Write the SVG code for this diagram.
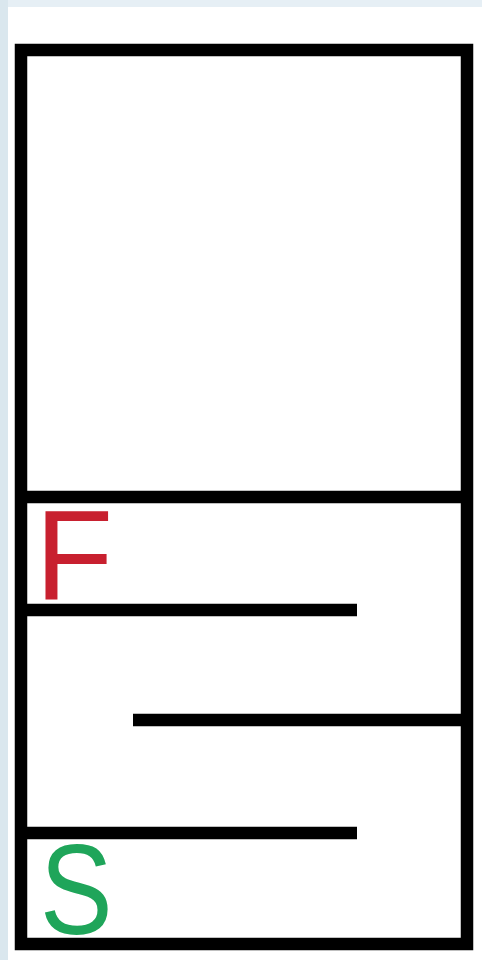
<svg xmlns="http://www.w3.org/2000/svg" width="482" height="960" viewBox="0 0 482 960">
  <style>
    .wall { fill: none; stroke: #000; stroke-width: 12.5; stroke-linecap: butt; stroke-linejoin: miter; }
    .lbl { font-family: "Liberation Sans", Arial, sans-serif; font-size: 128px; }
  </style>
  <g id="background">
    <rect x="0" y="0" width="482" height="960" fill="#e6eff5"/>
    <rect x="0" y="0" width="8" height="960" fill="#dae7ee"/>
    <rect x="8" y="7" width="474" height="953" fill="#ffffff"/>
  </g>
  <g id="walls">
    <rect class="wall" x="21" y="50" width="446" height="894"/>
    <line class="wall" x1="21" y1="497" x2="467" y2="497"/>
    <line class="wall" x1="21" y1="610" x2="357" y2="610"/>
    <line class="wall" x1="133" y1="720" x2="467" y2="720"/>
    <line class="wall" x1="21" y1="833" x2="357" y2="833"/>
  </g>
  <g id="finish">
    <text class="lbl" x="35" y="600" fill="#c8202f">F</text>
  </g>
  <g id="start">
    <text class="lbl" transform="translate(40,934) scale(0.85,1)" x="0" y="0" fill="#1fa55a">S</text>
  </g>
</svg>
